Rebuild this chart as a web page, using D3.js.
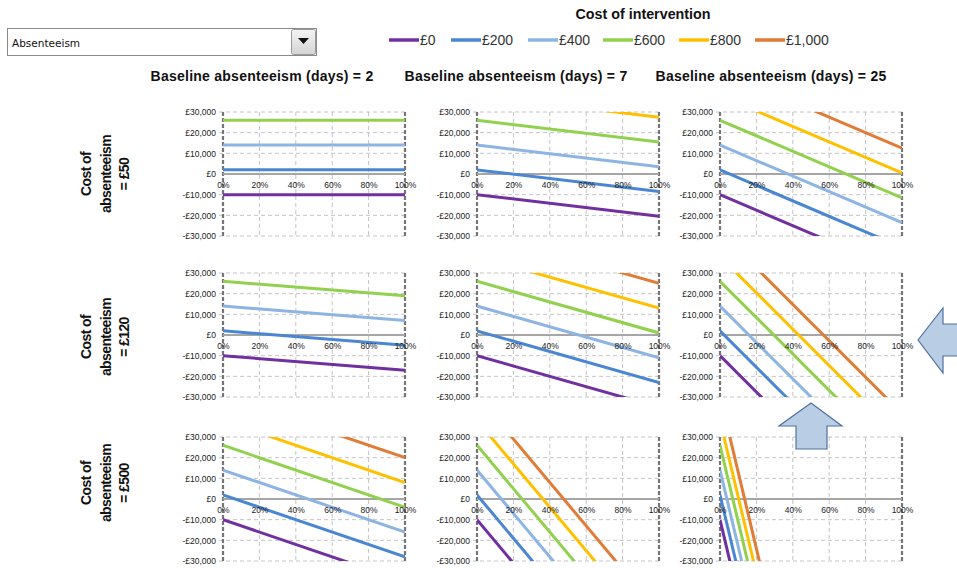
<!DOCTYPE html>
<html>
<head>
<meta charset="utf-8">
<script src="https://cdn.jsdelivr.net/npm/d3@7"></script>
<style>
  html, body { margin: 0; padding: 0; background: #fff; }
  svg { display: block; font-family: "Liberation Sans", Arial, sans-serif; }
</style>
</head>
<body>
<svg id="chart" width="957" height="568"></svg>
<script>
// ---- data ----
const interventionCosts = ["£0", "£200", "£400", "£600", "£800", "£1,000"];
const seriesColors = ["#7030A0", "#4A86D2", "#8DB4E2", "#92D050", "#FFC000", "#E07C36"];
const baselineDays = [2, 7, 25];
const absenteeismCosts = ["£50", "£120", "£500"];
const reductionTicks = [0, 0.2, 0.4, 0.6, 0.8, 1];
const valueTicks = [30000, 20000, 10000, 0, -10000, -20000, -30000];

// Net benefit at 0% reduction, one value per intervention cost
const startValues = [-10000, 2000, 14000, 26000, 38000, 50000];

// Net benefit at 100% reduction: [absenteeism cost row][baseline days column][intervention cost]
const endValuesCost50 = [
  [-10000, 2000, 14000, 26000, 38000, 50000],
  [-20500, -8500, 3500, 15500, 27500, 39500],
  [-47500, -35500, -23500, -11500, 500, 12500]
];
const endValuesCost120 = [
  [-17000, -5000, 7000, 19000, 31000, 43000],
  [-35000, -23000, -11000, 1000, 13000, 25000],
  [-98000, -86000, -74000, -62000, -50000, -38000]
];
const endValuesCost500 = [
  [-40000, -28000, -16000, -4000, 8000, 20000],
  [-115000, -103000, -91000, -79000, -67000, -55000],
  [-380000, -368000, -356000, -344000, -332000, -320000]
];
const endValues = [endValuesCost50, endValuesCost120, endValuesCost500];

// ---- layout ----
const svg = d3.select("#chart");
const panelLeft = [223, 477, 720];
const panelTop = [112, 273, 437];
const panelW = 182, panelH = 124;
const rowLabelCenter = [174, 337, 483];

const fmtMoney = v => (v < 0 ? "-£" : "£") + d3.format(",")(Math.abs(v));

const defs = svg.append("defs");
const grad = defs.append("linearGradient").attr("id", "btnGrad")
  .attr("x1", 0).attr("y1", 0).attr("x2", 0).attr("y2", 1);
grad.append("stop").attr("offset", "0%").attr("stop-color", "#f4f4f4");
grad.append("stop").attr("offset", "100%").attr("stop-color", "#d4d4d4");

// ---- dropdown ----
const dd = svg.append("g");
dd.append("rect").attr("x", 7.5).attr("y", 28.5).attr("width", 309).attr("height", 27)
  .attr("fill", "#fff").attr("stroke", "#8a8a8a");
dd.append("text").attr("x", 12).attr("y", 46.5)
  .attr("font-family", "'DejaVu Sans', sans-serif").attr("font-size", 10.5)
  .attr("fill", "#111").text("Absenteeism");
dd.append("rect").attr("x", 291.5).attr("y", 29.5).attr("width", 24).attr("height", 25)
  .attr("rx", 2).attr("fill", "url(#btnGrad)").attr("stroke", "#9a9a9a");
dd.append("path").attr("d", "M298,38 L309,38 L303.5,44 Z").attr("fill", "#111");

// ---- legend ----
svg.append("text").attr("x", 643).attr("y", 19).attr("text-anchor", "middle")
  .attr("font-size", 14.3).attr("font-weight", "bold").attr("fill", "#111")
  .text("Cost of intervention");
const legendX = [389, 451, 528, 603, 679, 755];
const legend = svg.append("g").selectAll("g").data(interventionCosts).join("g")
  .attr("transform", (d, i) => `translate(${legendX[i]},40)`);
legend.append("line").attr("x1", 0).attr("x2", 30)
  .attr("stroke", (d, i) => seriesColors[i]).attr("stroke-width", 3.5);
legend.append("text").attr("x", 31).attr("y", 5).attr("font-size", 14)
  .attr("fill", "#333").text(d => d);

// ---- column titles ----
const colCenter = [262, 516, 771];
svg.append("g").selectAll("text").data(baselineDays).join("text")
  .attr("x", (d, i) => colCenter[i]).attr("y", 81).attr("text-anchor", "middle")
  .attr("font-size", 14).attr("letter-spacing", 0.25).attr("font-weight", "bold").attr("fill", "#111")
  .text(d => `Baseline absenteeism (days) = ${d}`);

// ---- row titles ----
const rowTitles = svg.append("g").selectAll("text").data(absenteeismCosts).join("text")
  .attr("transform", (d, i) => `translate(103,${rowLabelCenter[i]}) rotate(-90)`)
  .attr("text-anchor", "middle").attr("font-size", 14).attr("letter-spacing", -0.6)
  .attr("font-weight", "bold").attr("fill", "#111");
rowTitles.append("tspan").attr("x", 0).attr("y", -12).text("Cost of");
rowTitles.append("tspan").attr("x", 0).attr("y", 7.5).text("absenteeism");
rowTitles.append("tspan").attr("x", 0).attr("y", 26).text(d => `= ${d}`);

// ---- panels ----
const x = d3.scaleLinear().domain([0, 1]).range([0, panelW]);
const y = d3.scaleLinear().domain([-30000, 30000]).range([panelH, 0]);

absenteeismCosts.forEach((cost, r) => {
  baselineDays.forEach((days, c) => {
    const g = svg.append("g").attr("transform", `translate(${panelLeft[c]},${panelTop[r]})`);
    const clipId = `clip-${r}-${c}`;
    defs.append("clipPath").attr("id", clipId).append("rect")
      .attr("x", 0).attr("y", 0).attr("width", panelW).attr("height", panelH);

    // horizontal grid
    g.append("g").selectAll("line").data(valueTicks.filter(v => v !== 0)).join("line")
      .attr("x1", -4).attr("x2", panelW).attr("y1", d => y(d)).attr("y2", d => y(d))
      .attr("stroke", "#c4c4c4").attr("stroke-width", 1).attr("stroke-dasharray", "4,3");
    // vertical grid
    g.append("g").selectAll("line").data(reductionTicks.slice(1, -1)).join("line")
      .attr("x1", d => x(d)).attr("x2", d => x(d)).attr("y1", 0).attr("y2", panelH)
      .attr("stroke", "#c4c4c4").attr("stroke-width", 1).attr("stroke-dasharray", "4,3");
    // side borders
    g.append("g").selectAll("line").data([0, 1]).join("line")
      .attr("x1", d => x(d)).attr("x2", d => x(d)).attr("y1", 0).attr("y2", panelH)
      .attr("stroke", "#757575").attr("stroke-width", 2.2).attr("stroke-dasharray", "4,2");
    // zero line
    g.append("line").attr("x1", 0).attr("x2", panelW).attr("y1", y(0)).attr("y2", y(0))
      .attr("stroke", "#a6a6a6").attr("stroke-width", 2);

    // y-axis labels
    const yAxis = d3.axisLeft(y).tickValues(valueTicks).tickFormat(fmtMoney).tickSize(0).tickPadding(7);
    const ya = g.append("g").call(yAxis);
    ya.select(".domain").remove();
    ya.selectAll("text").attr("font-size", 8.5).attr("fill", "#222")
      .attr("font-family", "'Liberation Sans', Arial, sans-serif");

    // series lines
    const series = startValues.map((s, k) => [[0, s], [1, endValues[r][c][k]]]);
    g.append("g").attr("clip-path", `url(#${clipId})`).selectAll("path").data(series).join("path")
      .attr("d", d3.line().x(d => x(d[0])).y(d => y(d[1])))
      .attr("fill", "none").attr("stroke", (d, k) => seriesColors[k])
      .attr("stroke-width", 3);

    // x-axis labels on the zero line
    const xAxis = d3.axisBottom(x).tickValues(reductionTicks).tickFormat(d3.format(".0%")).tickSize(0).tickPadding(8);
    const xa = g.append("g").attr("transform", `translate(0,${y(0)})`).call(xAxis);
    xa.select(".domain").remove();
    xa.selectAll("text").attr("font-size", 8.5).attr("fill", "#222")
      .attr("font-family", "'Liberation Sans', Arial, sans-serif");
  });
});

// ---- navigation arrows ----
const arrowStyle = s => s.attr("fill", "#B9CDE5").attr("stroke", "#4F72A0").attr("stroke-width", 1.2);
svg.append("path")
  .attr("d", "M918,340 L943,308 L943,324 L960,324 L960,356 L943,356 L943,373 Z")
  .call(arrowStyle);
svg.append("path")
  .attr("d", "M811,403 L842,426 L827,426 L827,449 L796,449 L796,426 L779,426 Z")
  .call(arrowStyle);
</script>
</body>
</html>
